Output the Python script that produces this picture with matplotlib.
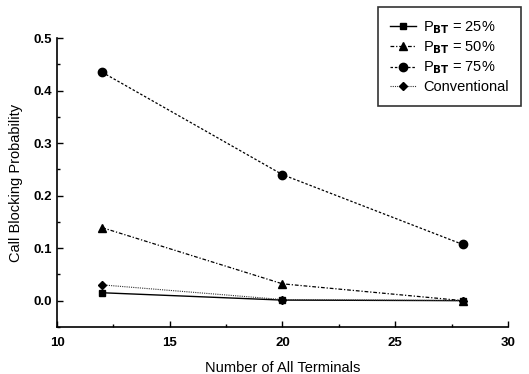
import matplotlib
matplotlib.use("Agg")
import matplotlib.pyplot as plt
from matplotlib.ticker import MultipleLocator

plt.rcParams['font.family'] = ['Liberation Sans', 'DejaVu Sans']

terminals = [12, 20, 28]
p25 = [0.015, 0.001, 0.0]
p50 = [0.139, 0.032, 0.0]
p75 = [0.435, 0.240, 0.107]
conventional = [0.030, 0.002, 0.0]
labels = [r'P$_{\mathbf{BT}}$ = 25%', r'P$_{\mathbf{BT}}$ = 50%', r'P$_{\mathbf{BT}}$ = 75%', 'Conventional']

fig = plt.figure(figsize=(5.29, 3.74), dpi=100)
ax = fig.add_axes([0.108, 0.126, 0.852, 0.772])

l1, = ax.plot(terminals, p25, color='black', lw=1.0, ls='-', marker='s', ms=5)
l2, = ax.plot(terminals, p50, color='black', lw=0.9, ls=(0, (3, 1.5, 1, 1.5)), marker='^', ms=6)
l3, = ax.plot(terminals, p75, color='black', lw=0.9, ls=(0, (2, 1.5)), marker='o', ms=6)
l4, = ax.plot(terminals, conventional, color='#333333', lw=0.8, ls=(0, (1, 1)),
              marker='D', ms=4.5, mfc='black', mec='black')

ax.set_xlim(10, 30)
ax.set_ylim(-0.05, 0.5)
ax.xaxis.set_major_locator(MultipleLocator(5))
ax.xaxis.set_minor_locator(MultipleLocator(2.5))
ax.yaxis.set_major_locator(MultipleLocator(0.1))
ax.yaxis.set_minor_locator(MultipleLocator(0.05))
ax.yaxis.set_major_formatter(plt.FuncFormatter(lambda v, p: f'{v:.1f}'))
ax.tick_params(which='both', direction='in', width=1.0)
ax.tick_params(which='major', length=4, labelsize=9.5)
ax.tick_params(axis='x', which='major', pad=7)
ax.tick_params(which='minor', length=2.5)
for lab in ax.get_xticklabels() + ax.get_yticklabels():
    lab.set_fontweight('bold')
ax.spines['top'].set_visible(False)
ax.spines['right'].set_visible(False)
ax.spines['left'].set_linewidth(1.2)
ax.spines['bottom'].set_linewidth(1.2)

ax.set_xlabel('Number of All Terminals', fontsize=10.5, labelpad=9)
ax.set_ylabel('Call Blocking Probability', fontsize=10.5, labelpad=8)

leg = fig.legend([l1, l2, l3, l4], labels, loc='upper right', bbox_to_anchor=(0.998, 1.0),
                 fontsize=10.5, frameon=True, fancybox=False, edgecolor='black',
                 handlelength=1.8, borderpad=0.8, labelspacing=0.25, handletextpad=0.5)
leg.get_frame().set_linewidth(1.2)

fig.savefig('out.png', dpi=100)
